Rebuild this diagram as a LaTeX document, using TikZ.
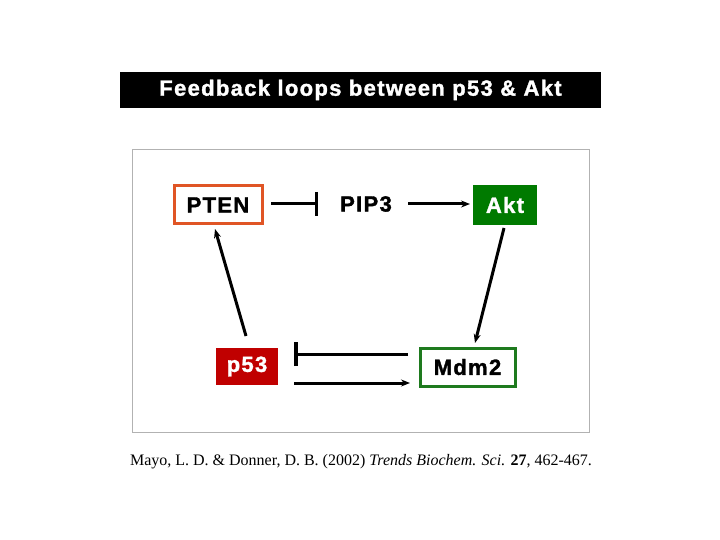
\documentclass[tikz,border=0pt]{standalone}
\usepackage{fontspec}
\setmainfont{Liberation Sans}
\newfontfamily\widef[LetterSpace=6,FakeBold=1.5]{Liberation Sans}
\newfontfamily\timesf{Liberation Serif}
\usetikzlibrary{arrows.meta}
\definecolor{ptenc}{HTML}{E05525}
\definecolor{aktc}{HTML}{007A00}
\definecolor{p53c}{HTML}{C00000}
\definecolor{mdmc}{HTML}{1E7A1E}
\begin{document}
\begin{tikzpicture}[x=1pt,y=-1pt,
  lbl/.style={font=\widef\fontsize{22}{24}\selectfont\bfseries, inner sep=0pt},
  act/.style={line width=3pt,-{Stealth[length=9pt,width=7pt]}},
  inh/.style={line width=3pt,-{Bar[width=24pt,line width=3.5pt]}}]
\useasboundingbox (0,0) rectangle (720,540);
\fill[white] (0,0) rectangle (720,540);
\node[fill=black,text=white,font=\widef\fontsize{22}{24}\selectfont\bfseries,minimum width=481pt,minimum height=36pt,inner sep=0pt] (title) at (360.5,90) {Feedback loops between p53 \& Akt};
\draw[gray!60,line width=1pt] (132,150) rectangle (589,432);
\node[draw=ptenc,line width=3pt,lbl,minimum width=88pt,minimum height=38pt] (pten) at (218,205) {PTEN};
\node[lbl] (pip) at (366,204) {PIP3};
\node[fill=aktc,text=white,lbl,minimum width=64pt,minimum height=40pt] (akt) at (505,205) {Akt};
\node[fill=p53c,text=white,lbl,minimum width=62pt,minimum height=37pt] (p53) at (247,366.5) {p53};
\node[draw=mdmc,line width=3pt,lbl,minimum width=95pt,minimum height=38pt] (mdm) at (467.5,367) {Mdm2};
\coordinate (a1) at (271,204); \coordinate (a2) at (318,204);
\draw[inh] (a1) -- (a2);
\coordinate (b1) at (408,204); \coordinate (b2) at (470,204);
\draw[act] (b1) -- (b2);
\coordinate (c1) at (504,228); \coordinate (c2) at (475,343);
\draw[act] (c1) -- (c2);
\coordinate (d1) at (246,336); \coordinate (d2) at (215,229);
\draw[act] (d1) -- (d2);
\coordinate (e1) at (408,354); \coordinate (e2) at (294,354);
\draw[inh] (e1) -- (e2);
\coordinate (f1) at (294,383); \coordinate (f2) at (410,383);
\draw[act] (f1) -- (f2);
\node[font=\timesf\fontsize{16}{18}\selectfont,inner sep=0pt] (cite) at (361,462) {Mayo, L. D. \& Donner, D. B. (2002) \textit{Trends Biochem. Sci.} \textbf{27}, 462-467.};
\end{tikzpicture}
\end{document}
